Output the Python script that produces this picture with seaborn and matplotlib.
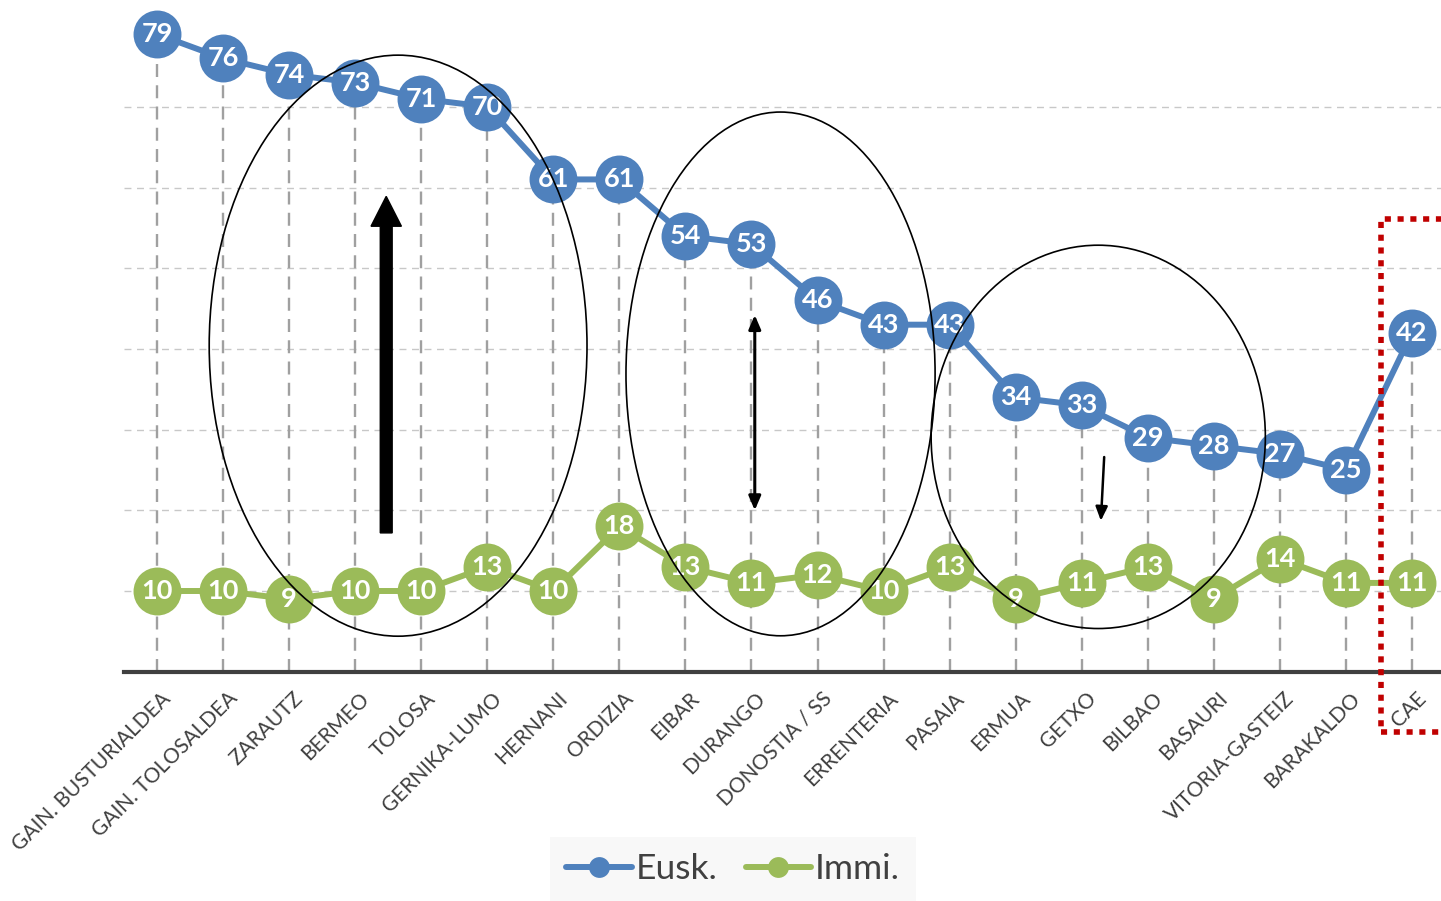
import numpy as np
import pandas as pd
import matplotlib
matplotlib.use("Agg")
import matplotlib.pyplot as plt
import seaborn as sns
from matplotlib.patches import Ellipse, Rectangle
from matplotlib.lines import Line2D
import matplotlib.transforms as mtransforms

categories = ["GAIN. BUSTURIALDEA", "GAIN. TOLOSALDEA", "ZARAUTZ", "BERMEO", "TOLOSA",
              "GERNIKA-LUMO", "HERNANI", "ORDIZIA", "EIBAR", "DURANGO", "DONOSTIA / SS",
              "ERRENTERIA", "PASAIA", "ERMUA", "GETXO", "BILBAO", "BASAURI",
              "VITORIA-GASTEIZ", "BARAKALDO", "CAE"]
eusk = [79, 76, 74, 73, 71, 70, 61, 61, 54, 53, 46, 43, 43, 34, 33, 29, 28, 27, 25, 42]
immi = [10, 10, 9, 10, 10, 13, 10, 18, 13, 11, 12, 10, 13, 9, 11, 13, 9, 14, 11, 11]
series_names = ["Eusk.", "Immi."]

BLUE = "#4F81BD"
GREEN = "#9BBB59"
TXT = "#404040"

sns.set_theme(style="white")
plt.rcParams["font.family"] = ["Lato", "DejaVu Sans"]

fig = plt.figure(figsize=(14.41, 9.01), dpi=100)
ax = fig.add_axes([124 / 1441, (901 - 671.7) / 901, 1321 / 1441, 645.6 / 901])

pos = np.arange(len(categories))
df = pd.DataFrame({
    "pos": np.concatenate([pos, pos]),
    "value": eusk + immi,
    "serie": [series_names[0]] * len(pos) + [series_names[1]] * len(pos),
})

# horizontal gridlines
for yv in range(10, 80, 10):
    ax.axhline(yv, color="#C8C8C8", lw=1, ls=(0, (5, 4)), zorder=0.5)

# drop lines
ax.vlines(pos, 0, np.maximum(eusk, immi), colors="#A0A0A0", lw=1.7,
          linestyles=(0, (5.5, 3.5)), zorder=0.6)

sns.lineplot(data=df, x="pos", y="value", hue="serie", palette=[BLUE, GREEN],
             marker="o", markersize=34.5, markeredgewidth=0, linewidth=4.3,
             sort=False, legend=False, ax=ax, zorder=2)
for ln in ax.lines:
    ln.set_clip_on(False)

for x, v in zip(pos, eusk):
    ax.text(x, v, str(v), ha="center", va="center", color="white", fontsize=19.5,
            fontweight="bold", zorder=5, clip_on=False)
for x, v in zip(pos, immi):
    ax.text(x, v, str(v), ha="center", va="center", color="white", fontsize=19.5,
            fontweight="bold", zorder=5, clip_on=False)

ax.set_xlim(-0.5, len(categories) - 0.5)
ax.set_ylim(0, 80)
ax.set_yticks([])
ax.set_xticks(pos)
ax.set_xticklabels(categories, rotation=45, ha="right", va="top",
                   rotation_mode="anchor", fontsize=15, color=TXT)
ax.tick_params(axis="x", length=0, pad=12)
offset = mtransforms.ScaledTranslation(4 / 100, 0, fig.dpi_scale_trans)
for lbl in ax.get_xticklabels():
    lbl.set_transform(lbl.get_transform() + offset)
ax.set_xlabel("")
ax.set_ylabel("")
for s in ["top", "left", "right"]:
    ax.spines[s].set_visible(False)
ax.spines["bottom"].set_color(TXT)
ax.spines["bottom"].set_linewidth(3)
ax.spines["bottom"].set_zorder(3)

# annotations: ellipses
for (cx, cy, w, h) in [(3.65, 40.4, 5.72, 72.0), (9.44, 36.9, 4.68, 64.9), (14.25, 29.1, 5.06, 47.5)]:
    ax.add_patch(Ellipse((cx, cy), w, h, fill=False, edgecolor="black", lw=1.2,
                         zorder=6, clip_on=False))

# arrows
ax.arrow(3.47, 17.2, 0, 58.9 - 17.2, width=0.18, head_width=0.46, head_length=3.7,
         length_includes_head=True, color="black", zorder=6)
ax.annotate("", xy=(9.05, 20.0), xytext=(9.05, 44.2),
            arrowprops=dict(arrowstyle="<|-|>,head_length=0.7,head_width=0.3",
                            lw=2.2, color="black", shrinkA=0, shrinkB=0), zorder=6)
ax.annotate("", xy=(14.29, 18.7), xytext=(14.34, 26.6),
            arrowprops=dict(arrowstyle="-|>,head_length=0.7,head_width=0.3",
                            lw=1.8, color="black", shrinkA=0, shrinkB=0), zorder=6)

# red dotted rectangle around CAE
ax.add_patch(Rectangle((18.53, -7.5), 2.0, 56.1 + 7.5, fill=False, edgecolor="#C00000",
                       lw=4, ls=(0, (1.1, 1.2)), zorder=7, clip_on=False))

# legend
handles = [Line2D([0], [0], color=BLUE, lw=4.3, marker="o", markersize=15, markeredgewidth=0),
           Line2D([0], [0], color=GREEN, lw=4.3, marker="o", markersize=15, markeredgewidth=0)]
leg = fig.legend(handles, series_names, loc="center", bbox_to_anchor=(733 / 1441, 1 - 869 / 901),
                 ncol=2, fontsize=25.5, frameon=True, handlelength=1.85, handletextpad=0.1,
                 columnspacing=0.8, borderpad=0.45, borderaxespad=0, fancybox=False)
leg.get_frame().set_facecolor("#F7F7F7")
leg.get_frame().set_edgecolor("none")
for t in leg.get_texts():
    t.set_color(TXT)

fig.savefig("out.png", dpi=100)
